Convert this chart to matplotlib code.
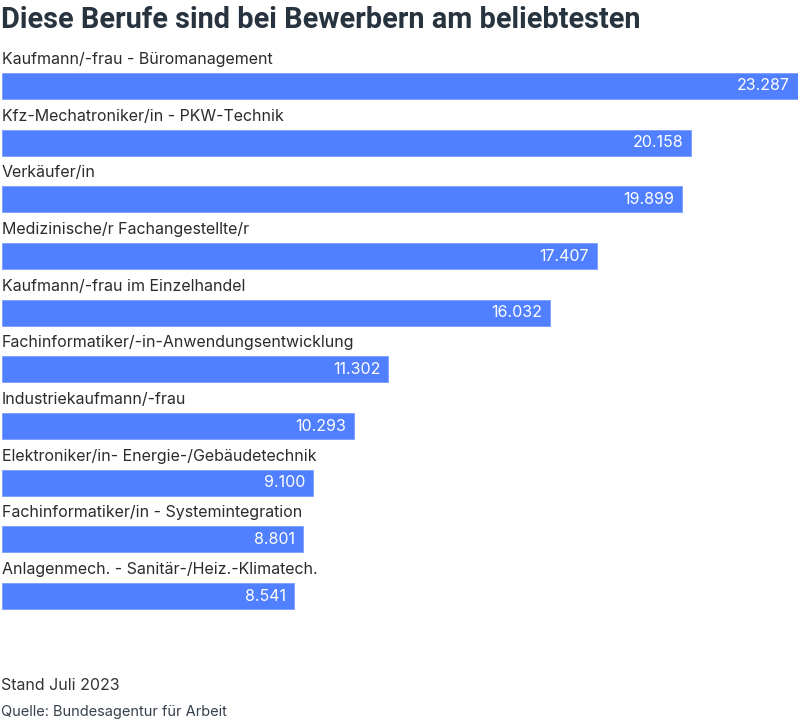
import matplotlib
matplotlib.use("Agg")
import matplotlib.pyplot as plt
from matplotlib import font_manager as fm
from matplotlib.transforms import offset_copy

categories = [
    "Kaufmann/-frau - Büromanagement",
    "Kfz-Mechatroniker/in - PKW-Technik",
    "Verkäufer/in",
    "Medizinische/r Fachangestellte/r",
    "Kaufmann/-frau im Einzelhandel",
    "Fachinformatiker/-in-Anwendungsentwicklung",
    "Industriekaufmann/-frau",
    "Elektroniker/in- Energie-/Gebäudetechnik",
    "Fachinformatiker/in - Systemintegration",
    "Anlagenmech. - Sanitär-/Heiz.-Klimatech.",
]
values = [23287, 20158, 19899, 17407, 16032, 11302, 10293, 9100, 8801, 8541]
value_labels = ["23.287", "20.158", "19.899", "17.407", "16.032",
                "11.302", "10.293", "9.100", "8.801", "8.541"]
title = "Diese Berufe sind bei Bewerbern am beliebtesten"
note = "Stand Juli 2023"
source = "Quelle: Bundesagentur für Arbeit"

W, H = 800, 720
fig = plt.figure(figsize=(W / 100, H / 100), dpi=100)

BAR = "#5080ff"
TXT = "#2b2b2b"

avail = {f.name for f in fm.fontManager.ttflist}
body_font = "Inter" if "Inter" in avail else "DejaVu Sans"
title_font = "Roboto" if "Roboto" in avail else "DejaVu Sans"

# axes spanning pixel rows 40..640
top_px, bot_px = 40, 640
ax = fig.add_axes([2 / W, 1 - bot_px / H, 796 / W, (bot_px - top_px) / H])
pitch = 56.67
top_units = (86 - top_px) / pitch
span = (bot_px - top_px) / pitch
ax.set_ylim(-top_units + span, -top_units)
ax.set_xlim(0, max(values))
ax.axis("off")

ypos = list(range(len(categories)))
bar_h = 26 / pitch
ax.barh(ypos, values, height=bar_h, color=BAR, edgecolor="#7a9dff", linewidth=0.6)

for y, cat, v, lab in zip(ypos, categories, values, value_labels):
    ax.text(0, y - 22 / pitch, cat, ha="left", va="baseline", fontsize=11.5,
            family=body_font, color=TXT)
    tr = offset_copy(ax.transData, fig=fig, x=-8, y=0, units="dots")
    ax.text(v, y, lab, ha="right", va="center", fontsize=11.5,
            family=body_font, color="white", transform=tr)

fig.text(1 / W, 1 - 28 / H, title, ha="left", va="baseline", fontsize=20.8,
         fontweight="bold", family=title_font, color="#27333f")
fig.text(1 / W, 1 - 690 / H, note, ha="left", va="baseline", fontsize=11.5,
         family=body_font, color="#333333")
fig.text(1 / W, 1 - 716 / H, source, ha="left", va="baseline", fontsize=10.5,
         family=body_font, color="#36404c")

fig.savefig("out.png", dpi=100)
